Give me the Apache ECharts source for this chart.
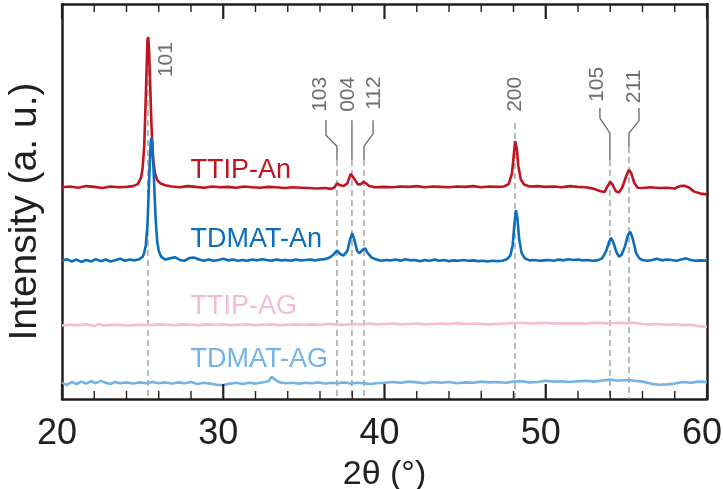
<!DOCTYPE html>
<html>
<head>
<meta charset="utf-8">
<script src="https://cdn.jsdelivr.net/npm/echarts@6/dist/echarts.min.js"></script>
<style>
  html, body { margin: 0; padding: 0; background: #fff; }
  #chart { width: 723px; height: 489px; }
</style>
</head>
<body>
<div id="chart"></div>
<script>
// 2θ tick labels
const xTicks = [20, 30, 40, 50, 60]

// XRD traces, [2θ, intensity (offset, a.u.)]
const ttipAn = [
  [20.0,53.6],[20.5,53.8],[21.0,53.5],[21.5,53.9],[22.0,53.7],[22.5,53.4],[23.0,53.8],[23.5,53.6],
  [24.0,53.7],[24.4,53.9],[24.7,54.4],[24.9,56.0],[25.0,58.5],[25.1,64],[25.2,77],[25.3,90.8],
  [25.35,91.6],[25.4,88],[25.45,82],[25.55,69],[25.65,61],[25.75,57.4],[25.9,55.5],[26.1,54.6],
  [26.4,54.1],[26.8,53.8],[27.3,53.6],[27.8,53.9],[28.3,53.7],[28.8,53.5],[29.3,53.8],[29.8,53.6],
  [30.3,53.7],[30.8,53.5],[31.3,53.8],[31.8,53.6],[32.3,53.5],[32.8,53.7],[33.3,53.6],[33.8,53.4],
  [34.3,53.6],[34.8,53.5],[35.3,53.4],[35.8,53.3],[36.3,53.4],[36.7,53.2],[36.9,53.6],[37.05,54.6],
  [37.2,54.2],[37.45,53.9],[37.7,54.6],[37.9,57.0],[38.0,57.2],[38.15,55.6],[38.35,54.3],[38.55,54.4],
  [38.7,55.0],[38.85,54.6],[39.05,53.9],[39.4,53.6],[40.0,53.7],[40.5,53.6],[41.0,53.8],[41.5,53.7],
  [42.0,53.9],[42.5,53.6],[43.0,53.8],[43.5,53.7],[44.0,53.6],[44.5,53.8],[45.0,53.7],[45.5,53.9],
  [46.0,53.6],[46.5,53.8],[47.0,53.7],[47.4,53.8],[47.7,54.4],[47.9,57],[48.0,61],[48.1,65.3],
  [48.2,63.5],[48.3,59],[48.45,55.6],[48.65,54.3],[49.0,53.8],[49.5,53.9],[50.0,53.7],[50.5,53.8],
  [51.0,53.6],[51.5,53.9],[52.0,53.7],[52.5,53.6],[53.0,53.2],[53.4,52.6],[53.65,52.4],[53.85,54.0],
  [54.0,55.0],[54.15,54.2],[54.35,52.6],[54.55,52.3],[54.75,53.6],[54.95,56.0],[55.15,58.0],[55.3,57.2],
  [55.5,54.6],[55.7,53.5],[56.0,53.4],[56.5,53.6],[57.0,53.4],[57.5,53.5],[58.0,53.3],[58.3,53.9],
  [58.6,54.0],[58.9,53.5],[59.2,52.5],[59.6,52.0],[60.0,51.8]
]

const tdmatAn = [
  [20.0,35.0],[20.3,35.4],[20.6,34.8],[20.9,35.3],[21.2,34.7],[21.5,35.2],[21.8,34.8],[22.1,35.4],
  [22.4,34.9],[22.7,35.3],[23.0,34.8],[23.3,35.1],[23.6,35.5],[23.9,35.0],[24.2,35.3],[24.5,35.1],
  [24.8,35.4],[25.0,36.0],[25.1,37.0],[25.2,39],[25.3,44],[25.4,55],[25.5,65],[25.55,66.1],
  [25.6,64.5],[25.7,56],[25.8,46],[25.9,40],[26.0,37.5],[26.15,36.0],[26.4,35.3],[26.7,35.6],
  [27.0,35.9],[27.3,35.2],[27.6,35.0],[27.9,35.7],[28.2,35.8],[28.5,35.3],[28.8,35.0],[29.1,35.3],
  [29.4,35.0],[29.7,35.2],[30.0,35.5],[30.3,35.1],[30.6,35.3],[30.9,35.0],[31.2,35.2],[31.5,35.0],
  [31.8,35.3],[32.1,35.1],[32.4,35.4],[32.7,35.2],[33.0,35.0],[33.3,35.3],[33.6,35.1],[33.9,35.2],
  [34.2,35.0],[34.5,35.3],[34.8,35.1],[35.1,35.2],[35.4,35.3],[35.7,35.1],[36.0,35.3],[36.3,35.4],
  [36.6,35.8],[36.85,36.6],[37.05,37.6],[37.25,36.7],[37.45,36.3],[37.7,37.5],[37.85,40.2],[38.0,42.0],
  [38.15,40.0],[38.3,37.5],[38.45,36.9],[38.65,37.8],[38.8,38.1],[38.95,37.0],[39.2,35.8],[39.5,35.3],
  [39.8,35.0],[40.1,35.2],[40.4,35.1],[40.7,35.3],[41.0,35.0],[41.3,35.4],[41.6,35.1],[41.9,35.2],
  [42.2,34.9],[42.5,35.2],[42.8,35.0],[43.1,35.3],[43.4,35.0],[43.7,35.2],[44.0,34.9],[44.3,35.1],
  [44.6,35.0],[44.9,35.2],[45.2,35.0],[45.5,35.1],[45.8,34.9],[46.1,35.0],[46.4,34.8],[46.7,35.0],
  [47.0,34.9],[47.3,35.0],[47.6,35.4],[47.8,36.3],[47.95,39],[48.05,44],[48.15,47.8],[48.25,45.5],
  [48.35,40.5],[48.5,37],[48.7,35.6],[49.0,35.1],[49.3,35.2],[49.6,35.0],[49.9,35.1],[50.2,35.2],
  [50.5,35.0],[50.8,35.3],[51.1,35.1],[51.4,35.4],[51.7,35.2],[52.0,35.3],[52.3,35.1],[52.6,35.2],
  [52.9,35.0],[53.2,35.1],[53.5,35.6],[53.75,37.5],[53.95,40.0],[54.05,40.8],[54.2,39.5],[54.4,37.0],
  [54.55,36.0],[54.7,36.5],[54.9,38.5],[55.1,41.5],[55.25,42.3],[55.4,40.5],[55.6,37.0],[55.8,35.6],
  [56.0,35.2],[56.3,35.0],[56.6,35.2],[56.9,35.5],[57.2,35.1],[57.5,35.3],[57.8,35.2],[58.1,35.0],
  [58.4,35.3],[58.7,35.6],[59.0,35.2],[59.3,35.0],[59.6,35.1],[60.0,35.0]
]

const ttipAg = [
  [20.0,18.6],[20.5,18.8],[21.0,18.7],[21.5,18.9],[22.0,18.5],[22.3,19.0],[22.6,18.6],[23.0,18.7],
  [23.5,18.8],[24.0,18.6],[24.5,18.7],[25.0,18.8],[25.5,18.7],[26.0,18.9],[26.5,18.8],[27.0,18.7],
  [27.5,18.9],[28.0,18.8],[28.5,18.7],[29.0,18.9],[29.5,18.8],[30.0,18.9],[30.5,18.7],[31.0,18.8],
  [31.5,18.9],[32.0,18.7],[32.5,18.8],[33.0,18.9],[33.5,18.7],[34.0,18.8],[34.5,18.9],[35.0,18.8],
  [35.5,18.9],[36.0,18.8],[36.5,19.0],[37.0,18.9],[37.5,18.8],[38.0,19.0],[38.5,18.9],[39.0,19.1],
  [39.5,18.9],[40.0,19.0],[40.5,19.1],[41.0,18.9],[41.5,19.0],[42.0,19.1],[42.5,18.9],[43.0,19.0],
  [43.5,19.1],[44.0,19.0],[44.5,19.2],[45.0,19.0],[45.5,19.1],[46.0,19.0],[46.5,18.9],[47.0,19.0],
  [47.5,19.1],[48.0,19.2],[48.5,19.3],[49.0,19.1],[49.5,19.2],[50.0,19.3],[50.5,19.1],[51.0,19.2],
  [51.5,19.1],[52.0,19.2],[52.5,19.1],[53.0,19.3],[53.5,19.2],[54.0,19.1],[54.5,19.3],[55.0,19.2],
  [55.5,19.3],[56.0,19.0],[56.5,18.9],[57.0,19.0],[57.5,18.8],[58.0,18.9],[58.5,18.7],[59.0,18.8],
  [59.5,18.4],[60.0,18.3]
]

const tdmatAg = [
  [20.0,4.0],[20.3,3.6],[20.6,4.3],[20.9,3.8],[21.2,4.4],[21.5,3.9],[21.8,4.5],[22.1,4.0],
  [22.4,4.6],[22.7,4.1],[23.0,3.8],[23.3,4.3],[23.6,4.0],[24.0,4.2],[24.4,3.9],[24.8,4.2],
  [25.2,4.0],[25.6,4.3],[26.0,4.0],[26.4,4.2],[26.8,3.9],[27.2,4.2],[27.6,4.0],[28.0,4.3],
  [28.4,3.8],[28.8,4.1],[29.2,3.9],[29.6,3.6],[30.0,3.5],[30.4,3.9],[30.8,4.1],[31.2,3.8],
  [31.6,4.1],[32.0,3.9],[32.4,4.2],[32.8,4.5],[33.0,5.6],[33.1,6.1],[33.25,4.8],[33.5,4.2],
  [33.9,4.0],[34.3,4.1],[34.7,3.9],[35.1,4.1],[35.5,4.0],[35.9,4.2],[36.3,3.9],[36.7,4.1],
  [37.1,4.0],[37.5,4.2],[37.9,3.9],[38.3,4.1],[38.7,4.0],[39.1,3.8],[39.5,4.0],[40.0,4.1],
  [40.5,4.3],[41.0,4.1],[41.5,4.4],[42.0,4.2],[42.5,4.0],[43.0,4.3],[43.5,4.1],[44.0,4.3],
  [44.5,4.0],[45.0,4.2],[45.5,4.1],[46.0,4.4],[46.5,4.2],[47.0,4.3],[47.5,4.1],[48.0,4.4],
  [48.5,4.5],[49.0,4.2],[49.5,4.3],[50.0,4.6],[50.5,4.4],[51.0,4.5],[51.5,4.3],[52.0,4.5],
  [52.5,4.6],[53.0,4.4],[53.5,4.7],[54.0,4.9],[54.5,4.6],[55.0,4.8],[55.5,4.6],[56.0,4.4],
  [56.5,3.9],[57.0,3.6],[57.5,3.7],[58.0,3.9],[58.5,4.3],[59.0,4.1],[59.5,4.4],[60.0,4.3]
]

// anatase reflections
const peakHkl = ['101', '103', '004', '112', '200', '105', '211']
const peakPos = [25.33, 37.05, 37.98, 38.73, 48.09, 53.98, 55.16]

// label / leader layout for each reflection (data units)
const leaders = [
  { lx: 26.45, ly: 81.5, path: [], dashTop: 90.9 },
  { lx: 36.03, ly: 72.7, path: [[36.37, 70.6], [36.37, 66.8], [37.05, 64.0], [37.05, 60.5]], dashTop: 60.5 },
  { lx: 37.74, ly: 72.7, path: [[37.98, 70.6], [37.98, 60.5]], dashTop: 60.5 },
  { lx: 39.35, ly: 73.2, path: [[39.29, 70.6], [39.29, 67.1], [38.73, 64.0], [38.73, 60.5]], dashTop: 60.5 },
  { lx: 48.09, ly: 72.7, path: [], dashTop: 69.9 },
  { lx: 53.18, ly: 75.2, path: [[53.36, 73.7], [53.36, 71.1], [53.98, 67.3], [53.98, 60.5]], dashTop: 60.5 },
  { lx: 55.47, ly: 74.9, path: [[55.78, 73.7], [55.78, 70.4], [55.16, 67.3], [55.16, 63.8]], dashTop: 63.8 }
]

const traces = [
  { name: 'TTIP-AG', data: ttipAg, color: '#f5bcd3', tx: 27.97, ty: 23.3 },
  { name: 'TDMAT-AG', data: tdmatAg, color: '#74b3e3', tx: 27.97, ty: 9.9 },
  { name: 'TTIP-An', data: ttipAn, color: '#c0141f', tx: 27.97, ty: 57.85 },
  { name: 'TDMAT-An', data: tdmatAn, color: '#0a6ebd', tx: 27.97, ty: 40.25 }
]

const FONT = '"Liberation Sans", Arial, Helvetica, sans-serif'
const INK = '#231f20'
const GREY = '#6f6f6f'
const MINOR_SPLIT = 5

// tick positions along 2θ: [value, 1 = major / 0 = minor]
const tickRows = []
xTicks.forEach((v, i) => {
  tickRows.push([v, 1])
  if (i < xTicks.length - 1) {
    const step = (xTicks[i + 1] - v) / MINOR_SPLIT
    for (let k = 1; k < MINOR_SPLIT; k++) tickRows.push([v + k * step, 0])
  }
})

const chart = echarts.init(document.getElementById('chart'))

const tickAxis = (pos, showLabel) => ({
  type: 'value',
  position: pos,
  min: xTicks[0],
  max: xTicks[xTicks.length - 1],
  interval: 10,
  axisLine: { onZero: false, lineStyle: { color: INK, width: 2.5 } },
  axisTick: { show: false },
  splitLine: { show: false },
  axisLabel: {
    show: showLabel,
    color: INK,
    fontSize: 36,
    fontFamily: FONT,
    margin: 17,
    padding: [0, 10, 0, 0]
  }
})

// dashed guides from each reflection down to the baseline
const dashSeries = peakPos.map((p, i) => ({
  type: 'line',
  showSymbol: false,
  data: [[p, leaders[i].dashTop], [p, 0]],
  lineStyle: { color: '#a3a3a3', width: 1.5, type: [6, 4] }
}))

// solid leaders between labels and guides
const leaderSeries = leaders.filter(l => l.path.length).map(l => ({
  type: 'line',
  showSymbol: false,
  data: l.path,
  lineStyle: { color: GREY, width: 1.4 }
}))

// inward ticks on the bottom and top frame edges, placed through the x scale
const tickSeries = {
  type: 'custom',
  silent: true,
  z: 10,
  clip: false,
  data: tickRows,
  encode: { x: 0 },
  renderItem: (params, api) => {
    const v = api.value(0)
    const major = api.value(1) === 1
    const len = major ? 15 : 8
    const w = major ? 2.2 : 1.4
    const b = api.coord([v, 0])
    const t = api.coord([v, 100])
    return {
      type: 'group',
      children: [
        { type: 'line', shape: { x1: b[0], y1: b[1], x2: b[0], y2: b[1] - len }, style: { stroke: INK, lineWidth: w } },
        { type: 'line', shape: { x1: t[0], y1: t[1], x2: t[0], y2: t[1] + len }, style: { stroke: INK, lineWidth: w } }
      ]
    }
  }
}

chart.setOption({
  animation: false,
  backgroundColor: '#fff',
  grid: { left: 62, right: 16, top: 4, bottom: 90, outerBoundsMode: 'none' },
  xAxis: [
    Object.assign(tickAxis('bottom', true), {
      name: '2θ (°)',
      nameLocation: 'middle',
      nameGap: 59,
      nameTextStyle: { color: INK, fontSize: 34, fontFamily: FONT }
    }),
    tickAxis('top', false)
  ],
  yAxis: [
    {
      type: 'value',
      min: 0,
      max: 100,
      position: 'left',
      name: 'Intensity (a. u.)',
      nameLocation: 'middle',
      nameGap: 17,
      nameTextStyle: { color: INK, fontSize: 39, fontFamily: FONT, padding: [0, 20, 0, 0] },
      axisLine: { show: true, onZero: false, lineStyle: { color: INK, width: 2.5 } },
      axisTick: { show: false },
      axisLabel: { show: false },
      splitLine: { show: false }
    },
    {
      type: 'value',
      min: 0,
      max: 100,
      position: 'right',
      axisLine: { show: true, onZero: false, lineStyle: { color: INK, width: 2.5 } },
      axisTick: { show: false },
      axisLabel: { show: false },
      splitLine: { show: false }
    }
  ],
  series: [...dashSeries, ...leaderSeries, ...traces.map(t => ({
    name: t.name,
    type: 'line',
    showSymbol: false,
    data: t.data,
    lineStyle: { color: t.color, width: 2.6 }
  })), tickSeries]
})

// text annotations placed through the axes
const px = c => chart.convertToPixel({ xAxisIndex: 0, yAxisIndex: 0 }, c)

const graphics = []
traces.forEach(t => {
  const p = px([t.tx, t.ty])
  graphics.push({
    type: 'text', x: p[0], y: p[1], z: 10,
    style: { text: t.name, fill: t.color, font: '27px ' + FONT, align: 'left', verticalAlign: 'middle' }
  })
})
peakHkl.forEach((h, i) => {
  const p = px([leaders[i].lx, leaders[i].ly])
  graphics.push({
    type: 'text', x: p[0], y: p[1], rotation: Math.PI / 2, z: 10,
    style: { text: h, fill: GREY, font: '21px ' + FONT, align: 'left', verticalAlign: 'middle' }
  })
})
chart.setOption({ graphic: graphics })
</script>
</body>
</html>
